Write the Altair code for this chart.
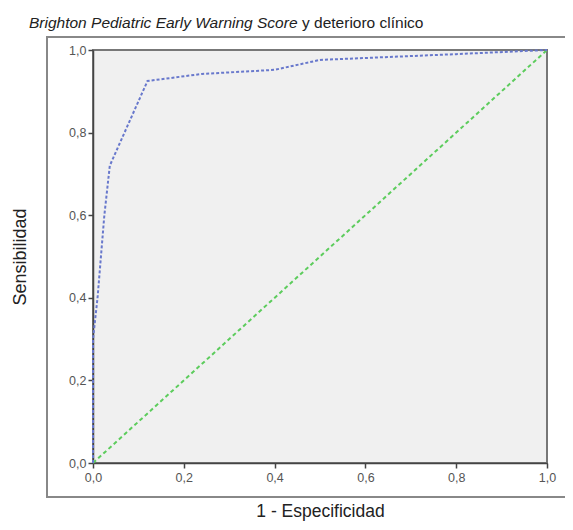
import altair as alt
import pandas as pd

# ROC curve values
roc_fpr = [0.0, 0.0, 0.01, 0.025, 0.037, 0.12, 0.24, 0.40, 0.50, 0.80, 1.0]
roc_tpr = [0.0, 0.30, 0.40, 0.60, 0.72, 0.925, 0.942, 0.952, 0.976, 0.99, 1.0]
ref_fpr = [0.0, 1.0]
ref_tpr = [0.0, 1.0]
tick_values = [0.0, 0.2, 0.4, 0.6, 0.8, 1.0]

title_italic = "Brighton Pediatric Early Warning Score"
title_regular = "y deterioro clínico"
x_title = "1 - Especificidad"
y_title = "Sensibilidad"

roc_df = pd.DataFrame({"fpr": roc_fpr, "tpr": roc_tpr, "ord": list(range(len(roc_fpr)))})
ref_df = pd.DataFrame({"fpr": ref_fpr, "tpr": ref_tpr, "ord": list(range(len(ref_fpr)))})
one = pd.DataFrame({"k": [0]})

label_expr = "replace(format(datum.value, '.1f'), '.', ',')"
FONT = "Liberation Sans"

xscale = alt.Scale(domain=[0, 1], nice=False, zero=False)
yscale = alt.Scale(domain=[0, 1], nice=False, zero=False)

xaxis = alt.Axis(values=tick_values, labelExpr=label_expr, title=x_title, grid=False,
                 tickSize=5, labelPadding=3, labelFontSize=12.5, labelColor="#555",
                 labelFont=FONT, titleFont=FONT, titleFontSize=17.5, titleFontWeight="normal",
                 titleColor="#222", titleY=53, titleBaseline="alphabetic",
                 domainColor="#444", tickColor="#444", domainWidth=1.5, tickWidth=1.5,
                 labelFlush=False)
yaxis = alt.Axis(values=tick_values, labelExpr=label_expr, title=y_title, grid=False,
                 tickSize=5, labelPadding=2, labelFontSize=12.5, labelColor="#555",
                 labelFont=FONT, titleFont=FONT, titleFontSize=18, titleFontWeight="normal",
                 titleColor="#222", titleX=-68, titleAngle=-90, titleBaseline="alphabetic",
                 domainColor="#444", tickColor="#444", domainWidth=1.5, tickWidth=1.5,
                 labelFlush=False)

outer_box = alt.Chart(one).mark_rect(fill=None, stroke="#888", strokeWidth=2).encode(
    x=alt.value(-46), x2=alt.value(560), y=alt.value(-13), y2=alt.value(447)
)

ref_line = alt.Chart(ref_df).mark_line(color="#5ccc5c", strokeWidth=2, strokeDash=[4, 3]).encode(
    x=alt.X("fpr:Q", scale=xscale, axis=xaxis),
    y=alt.Y("tpr:Q", scale=yscale, axis=yaxis),
    order="ord:O",
)

roc_line = alt.Chart(roc_df).mark_line(color="#6878cc", strokeWidth=2, strokeDash=[3, 2]).encode(
    x=alt.X("fpr:Q", scale=xscale),
    y=alt.Y("tpr:Q", scale=yscale),
    order="ord:O",
)

t1 = alt.Chart(one).mark_text(text=title_italic, font=FONT, fontSize=15.5, fontStyle="italic",
                              align="left", baseline="alphabetic", color="#222").encode(
    x=alt.value(-64), y=alt.value(-22))
t2 = alt.Chart(one).mark_text(text=title_regular, font=FONT, fontSize=15.5,
                              align="left", baseline="alphabetic", color="#222").encode(
    x=alt.value(209), y=alt.value(-22))

chart = alt.layer(outer_box, ref_line, roc_line, t1, t2).properties(
    width=454, height=413,
    autosize=alt.AutoSizeParams(type="none"),
    padding={"left": 85, "top": 42, "right": 18, "bottom": 59},
    background="white",
).configure_view(fill="#f0f0f0", stroke="#777", strokeWidth=2)

chart.save("out.html", embed_options={"renderer": "svg", "actions": False})
